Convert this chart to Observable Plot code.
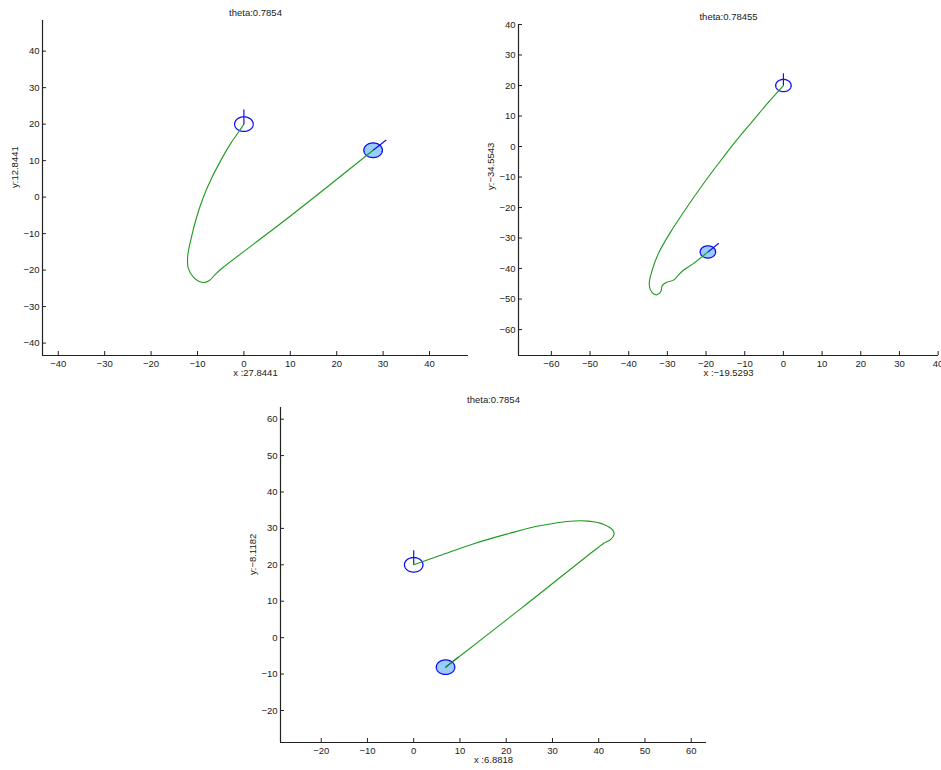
<!DOCTYPE html>
<html>
<head>
<meta charset="utf-8">
<script src="https://cdn.jsdelivr.net/npm/d3@7"></script>
<script src="https://cdn.jsdelivr.net/npm/@observablehq/plot@0.6"></script>
<style>
  html, body { margin: 0; padding: 0; background: #fff; overflow: hidden; }
  #wrap { position: relative; width: 941px; height: 770px; }
  .panel { position: absolute; }
</style>
</head>
<body>
<div id="wrap"></div>
<script>
// ---- data ----
const thetas = [0.7854, 0.78455, 0.7854];          // final heading per panel
const startX = [0, 0, 0];                            // start position
const startY = [20, 20, 20];
const startHeading = [Math.PI / 2, Math.PI / 2, Math.PI / 2];
const endX = [27.8441, -19.5293, 6.8818];            // final position
const endY = [12.8441, -34.5543, -8.1182];

const path1 = [[0,20],[-1.1,17.9],[-2.9,14.6],[-5.0,10.0],[-7.1,4.8],[-8.9,-0.6],[-10.3,-6.0],
  [-11.4,-11.5],[-12.1,-16.0],[-12.0,-19.4],[-10.9,-21.9],[-8.8,-23.4],[-7.5,-22.9],[-6.1,-21.1],
  [-4.7,-19.5],[10.1,-5.1],[27.8441,12.8441]];
const path2 = [[0,20],[-3.4,15.2],[-7.8,8.6],[-12.1,2.1],[-16.4,-4.9],[-20.7,-12.2],[-25.0,-20.0],
  [-29.3,-28.3],[-32.3,-35.0],[-34.0,-40.8],[-34.7,-45.3],[-34.0,-47.8],[-32.7,-48.6],[-31.7,-47.5],
  [-31.3,-45.5],[-30.0,-44.4],[-28.4,-43.8],[-27.2,-42.2],[-25.7,-40.4],[-23.3,-38.4],[-19.5293,-34.5543]];
const path3 = [[0,20],[5.8,22.6],[13.0,25.8],[20.3,28.5],[27.5,30.8],[34.7,32.05],[37.8,32.0],
  [41.1,31.1],[43.0,29.6],[43.3,28.3],[42.6,27.0],[41.1,25.9],[40.0,24.9],[23.5,8.3],[6.8818,-8.1182]];
const paths = [path1, path2, path3];

const xDomains = [[-43.4, 48.4], [-68.5, 40.1], [-28.8, 63.3]];
const yDomains = [[-43.4, 48.4], [-68.5, 40.0], [-28.8, 63.2]];
const xTicks = [d3.range(-40, 41, 10), d3.range(-60, 41, 10), d3.range(-20, 61, 10)];
const yTicks = [d3.range(-40, 41, 10), d3.range(-60, 41, 10), d3.range(-20, 61, 10)];

// ---- layout / style ----
const layouts = [
  {left: 0,   top: 0,   width: 480, height: 385, ml: 42, mr: 12, mt: 20, mb: 30},
  {left: 470, top: 0,   width: 471, height: 385, ml: 48, mr: 3,  mt: 24, mb: 30},
  {left: 240, top: 380, width: 480, height: 390, ml: 40, mr: 14, mt: 27, mb: 28}
];
const ROBOT_R = 2;        // robot body radius (data units)
const HEAD_LEN = 4;       // heading stick length (data units)
const BLUE = "#1010f0", FILL = "#99ccff", GREEN = "#1c9a1c", INK = "#222";

const sgn = v => String(v).replace("-", "\u2212");
const fmt = d3.format("d");

function circlePts(cx, cy, r) {
  return d3.range(0, 361, 4).map(a => [cx + r * Math.cos(a * Math.PI / 180), cy + r * Math.sin(a * Math.PI / 180)]);
}

const wrap = document.getElementById("wrap");
for (let i = 0; i < 3; i++) {
  const L = layouts[i];
  const th = thetas[i];
  const startSeg = [{x1: startX[i], y1: startY[i],
    x2: startX[i] + HEAD_LEN * Math.cos(startHeading[i]), y2: startY[i] + HEAD_LEN * Math.sin(startHeading[i])}];
  const endSeg = [{x1: endX[i], y1: endY[i],
    x2: endX[i] + HEAD_LEN * Math.cos(th), y2: endY[i] + HEAD_LEN * Math.sin(th)}];

  const chart = Plot.plot({
    width: L.width, height: L.height,
    marginLeft: L.ml, marginRight: L.mr, marginTop: L.mt, marginBottom: L.mb,
    style: {fontFamily: "'Liberation Sans', Arial, sans-serif", fontSize: "9.5px", color: INK, background: "transparent", overflow: "visible"},
    x: {domain: xDomains[i], label: null},
    y: {domain: yDomains[i], label: null},
    marks: [
      Plot.ruleY([yDomains[i][0]], {stroke: INK, strokeWidth: 1.2}),
      Plot.ruleX([xDomains[i][0]], {stroke: INK, strokeWidth: 1.2}),
      Plot.axisX({ticks: xTicks[i], tickSize: -4, tickPadding: 9, tickFormat: fmt, label: null, stroke: INK}),
      Plot.axisY({ticks: yTicks[i], tickSize: -4, tickPadding: 7, tickFormat: fmt, label: null, stroke: INK}),
      // final robot pose
      Plot.line(circlePts(endX[i], endY[i], ROBOT_R), {x: d => d[0], y: d => d[1], fill: FILL, stroke: BLUE, strokeWidth: 1.3}),
      Plot.link(endSeg, {x1: "x1", y1: "y1", x2: "x2", y2: "y2", stroke: BLUE, strokeWidth: 1.2}),
      // start robot pose
      Plot.line(circlePts(startX[i], startY[i], ROBOT_R), {x: d => d[0], y: d => d[1], stroke: BLUE, strokeWidth: 1.3}),
      Plot.link(startSeg, {x1: "x1", y1: "y1", x2: "x2", y2: "y2", stroke: BLUE, strokeWidth: 1.2}),
      // trajectory
      Plot.line(paths[i], {x: d => d[0], y: d => d[1], stroke: GREEN, strokeWidth: 1.1, curve: "catmull-rom"}),
      // texts
      Plot.text(["theta:" + th], {frameAnchor: "top", dy: -11, fill: INK}),
      Plot.text(["x :" + sgn(endX[i])], {frameAnchor: "bottom", dy: 20.5, fill: INK}),
      Plot.text(["y:" + sgn(endY[i])], {frameAnchor: "left", dx: -28, rotate: -90, fill: INK})
    ]
  });
  chart.classList.add("panel");
  chart.style.left = L.left + "px";
  chart.style.top = L.top + "px";
  wrap.appendChild(chart);
}
</script>
</body>
</html>
